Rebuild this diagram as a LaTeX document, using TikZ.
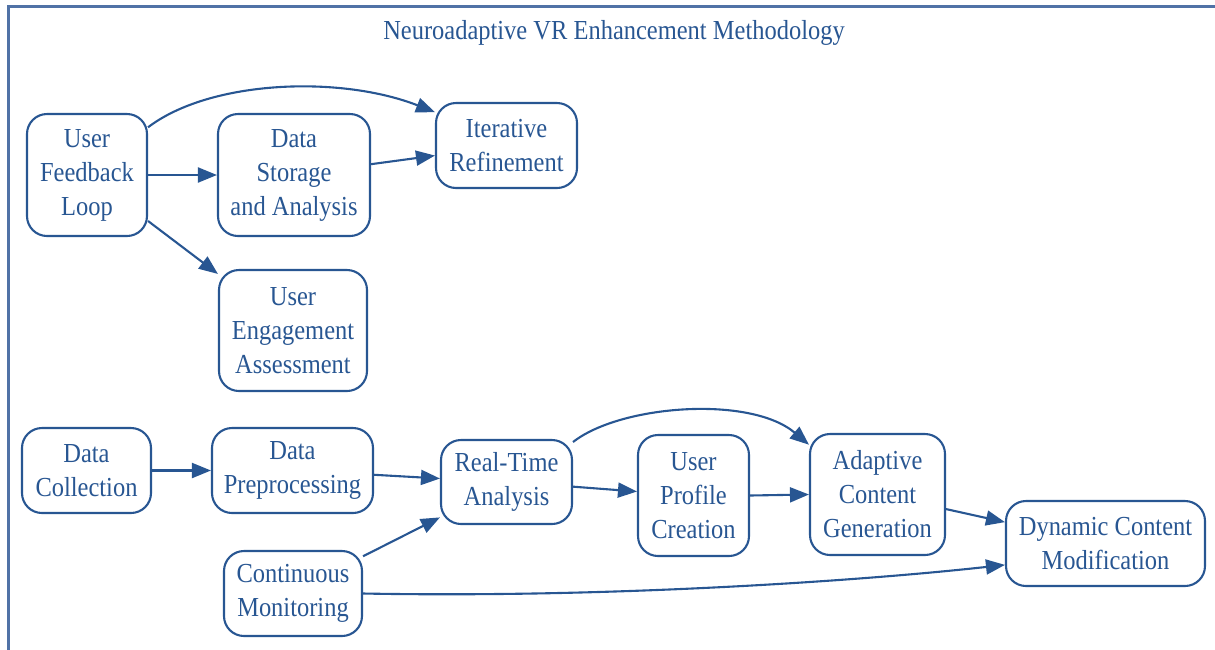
\documentclass[tikz,border=0pt]{standalone}
\usepackage{fontspec}
\setmainfont{Liberation Serif}[FakeStretch=0.89]
\usetikzlibrary{arrows.meta}
\definecolor{ink}{RGB}{40,86,146}
\definecolor{framec}{RGB}{80,114,166}
\tikzset{
 box/.style={draw=ink, line width=2.1pt, rounded corners=20pt, align=center, text=ink,
   font=\fontsize{27.5}{34}\selectfont, inner sep=0pt, anchor=center},
 link/.style={draw=ink, line width=2.1pt, -{Triangle[length=19pt,width=15pt]}},
}
\begin{document}
\begin{tikzpicture}[x=1pt,y=-1pt]
\useasboundingbox (0,0) rectangle (1215,649);
\draw[framec, line width=3pt] (8,660) -- (8,6) -- (1225,6);
\node[text=ink, font=\fontsize{27.5}{34}\selectfont, inner sep=0pt] (title) at (614,33) {Neuroadaptive VR Enhancement Methodology};

\node[box, minimum width=120pt, minimum height=122pt] (ufl) at (87,175) {User\\Feedback\\Loop};
\node[box, minimum width=152pt, minimum height=122pt] (dsa) at (294,175) {Data\\Storage\\and Analysis};
\node[box, minimum width=141pt, minimum height=85pt] (ir) at (506.5,145.5) {Iterative\\Refinement};
\node[box, minimum width=148pt, minimum height=121pt] (uea) at (293,330.5) {User\\Engagement\\Assessment};

\node[box, minimum width=129pt, minimum height=85pt] (dc) at (86.5,470.5) {Data\\Collection};
\node[box, minimum width=161pt, minimum height=85pt] (dp) at (292.5,470.5) {Data\\Preprocessing};
\node[box, minimum width=131pt, minimum height=84pt] (rta) at (506.5,482) {Real-Time\\Analysis};
\node[box, minimum width=138pt, minimum height=85pt] (cm) at (293,593.5) {Continuous\\Monitoring};
\node[box, minimum width=111pt, minimum height=121pt] (upc) at (693.5,495.5) {User\\Profile\\Creation};
\node[box, minimum width=135pt, minimum height=121pt] (acg) at (877.5,494.5) {Adaptive\\Content\\Generation};
\node[box, minimum width=199pt, minimum height=85pt] (dcm) at (1105.5,543.5) {Dynamic Content\\Modification};

\draw[link] (ufl.east) -- (dsa.west);
\draw[link] (ufl.38) .. controls (210,80) and (340,75) .. (ir.155);
\draw[link] (ufl.-37) -- (uea.143);
\draw[link] (dsa.8) -- (ir.188);

\draw[link] (dc.east) -- (dp.west);
\draw[link] (dp.-3) -- (rta.177);
\draw[link] (cm.28) -- (rta.208);
\draw[link] (rta.-4) -- (upc.176);
\draw[link] (rta.31) .. controls (620,405) and (750,395) .. (acg.144);
\draw[link] (upc.east) -- (acg.west);
\draw[link] (acg.-12) -- (dcm.168);
\draw[link] (cm.east) .. controls (600,598) and (850,582) .. (dcm.192);
\end{tikzpicture}
\end{document}
